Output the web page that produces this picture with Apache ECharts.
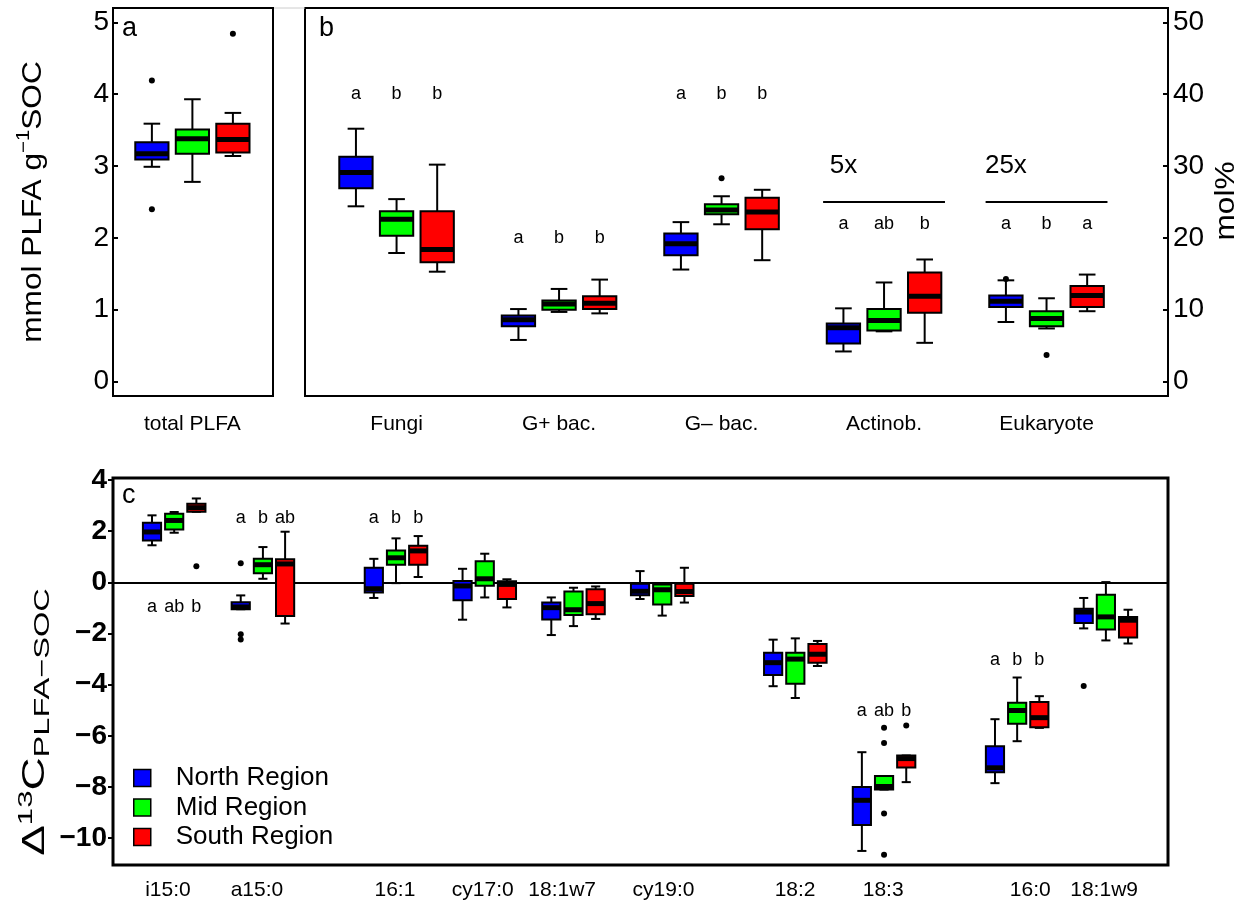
<!DOCTYPE html>
<html><head><meta charset="utf-8">
<script src="https://cdn.jsdelivr.net/npm/echarts@6/dist/echarts.min.js"></script>
<style>html,body{margin:0;padding:0;background:#fff}#c{width:1245px;height:905px}</style>
</head><body><div id="c"></div>
<script>
// ---------------- DATA ----------------
const regions = ['North Region', 'Mid Region', 'South Region'];

// Panel a: total PLFA (mmol PLFA g-1 SOC) — [lowWhisker, Q1, median, Q3, highWhisker]
const totalCategory = ['total PLFA'];
const totalNorth = [[2.99, 3.09, 3.17, 3.33, 3.59]];
const totalMid   = [[2.78, 3.17, 3.38, 3.51, 3.93]];
const totalSouth = [[3.14, 3.19, 3.37, 3.59, 3.74]];
const totalOutNorth = [[0, 4.19], [0, 2.40]];   // [group index, value]
const totalOutMid   = [];
const totalOutSouth = [[0, 4.84]];

// Panel b: mol%
const groupsB = ['Fungi', 'G+ bac.', 'G\u2013 bac.', 'Actinob.', 'Eukaryote'];
const molNorth = [[24.4, 26.9, 29.1, 31.3, 35.2], [5.8, 7.7, 8.6, 9.2, 10.1], [15.6, 17.6, 19.2, 20.6, 22.2], [4.2, 5.3, 7.5, 8.1, 10.2], [8.3, 10.4, 11.2, 12.0, 14.1]];
const molMid   = [[17.9, 20.3, 22.6, 23.7, 25.4], [9.7, 10.0, 10.8, 11.3, 12.9], [21.9, 23.3, 23.9, 24.7, 25.8], [7.0, 7.1, 8.5, 10.1, 13.8], [7.4, 7.7, 8.8, 9.8, 11.6]];
const molSouth = [[15.3, 16.6, 18.4, 23.7, 30.2], [9.5, 10.1, 10.9, 11.9, 14.2], [16.9, 21.2, 23.6, 25.6, 26.7], [5.4, 9.6, 11.9, 15.2, 17.0], [9.8, 10.4, 12.0, 13.3, 14.9]];
const molOutNorth = [[4, 14.3]];
const molOutMid   = [[2, 28.3], [4, 3.7]];
const molOutSouth = [];
const lettersB = [['a', 'b', 'b'], ['a', 'b', 'b'], ['a', 'b', 'b'], ['a', 'ab', 'b'], ['a', 'b', 'a']];
const letterYB = [40, 20, 40, 22, 22];
const scaleNoteGroups = [3, 4];
const scaleNoteText = ['5x', '25x'];
const scaleNoteLineY = [25, 25];
const scaleNoteTextY = [30, 30];

// Panel c: Δ13C PLFA-SOC
const fattyAcids = ['i15:0', 'a15:0', '16:1', 'cy17:0', '18:1w7', 'cy19:0', '18:2', '18:3', '16:0', '18:1w9'];
const d13North = [[1.45, 1.64, 1.97, 2.33, 2.62], [-1.05, -1.05, -0.96, -0.78, -0.51], [-0.61, -0.40, -0.25, 0.57, 0.92], [-1.46, -0.70, -0.14, 0.05, 0.53], [-2.06, -1.45, -0.99, -0.79, -0.59], [-0.65, -0.50, -0.35, -0.05, 0.44], [-4.06, -3.62, -3.14, -2.75, -2.24], [-10.50, -9.49, -8.52, -8.00, -6.64], [-7.85, -7.42, -7.25, -6.41, -5.35], [-1.80, -1.59, -1.16, -1.03, -0.61]];
const d13Mid   = [[1.94, 2.07, 2.42, 2.68, 2.75], [0.14, 0.36, 0.69, 0.92, 1.38], [-0.03, 0.69, 0.96, 1.25, 1.72], [-0.59, -0.13, 0.14, 0.83, 1.12], [-1.71, -1.28, -1.07, -0.36, -0.21], [-1.30, -0.87, -0.29, -0.08, -0.05], [-4.52, -3.96, -3.00, -2.75, -2.19], [-8.10, -8.10, -7.98, -7.57, -7.57], [-6.21, -5.53, -5.01, -4.71, -3.72], [-2.27, -1.84, -1.35, -0.48, 0.01]];
const d13South = [[2.76, 2.76, 2.92, 3.07, 3.28], [-1.61, -1.32, 0.72, 0.90, 1.98], [0.21, 0.69, 1.23, 1.43, 1.81], [-0.98, -0.65, -0.08, 0.04, 0.12], [-1.43, -1.25, -0.83, -0.27, -0.16], [-0.79, -0.53, -0.36, -0.05, 0.57], [-3.27, -3.14, -2.81, -2.41, -2.29], [-7.81, -7.24, -6.89, -6.77, -6.77], [-5.69, -5.66, -5.29, -4.68, -4.45], [-2.39, -2.16, -1.48, -1.35, -1.07]];
const d13OutNorth = [[1, 0.75], [1, -2.03], [1, -2.23], [9, -4.05]];
const d13OutMid   = [[7, -5.68], [7, -6.28], [7, -9.04], [7, -10.65]];
const d13OutSouth = [[0, 0.63], [7, -5.60]];
const lettersC = [['a', 'ab', 'b'], ['a', 'b', 'ab'], ['a', 'b', 'b'], null, null, null, null, ['a', 'ab', 'b'], ['a', 'b', 'b'], null];
const letterYC = [-0.98, 2.5, 2.5, null, null, null, null, -5.04, -3.05, null];

// slot positions of the first box of each group, and label positions
const groupStartA = [1];
const labelPosA = [2];
const groupStartB = [1, 5, 9, 13, 17];
const labelPosB = [2, 6, 10, 14, 18];
const groupStartC = [1, 5, 11, 15, 19, 23, 29, 33, 39, 43];
const labelPosC = [1.72, 5.73, 11.95, 15.91, 19.49, 24.06, 29.99, 33.96, 40.59, 43.92];

const ticksA = [0, 1, 2, 3, 4, 5];
const ticksB = [0, 10, 20, 30, 40, 50];
const ticksC = [-10, -8, -6, -4, -2, 0, 2, 4];

// ---------------- CHART ----------------
const FONT = '"Liberation Sans", Arial, Helvetica, sans-serif';
const colors = ['#0000ff', '#00ff00', '#ff0000'];
const BOXW = 0.82;

function boxData(stats, starts, r) { return stats.map((s, g) => [starts[g] + r].concat(s)); }
function outData(outs, starts, r) { return outs.map(o => [starts[o[0]] + r, o[1]]); }

function renderBox(params, api) {
  const x = api.value(0);
  const lo = api.coord([x, api.value(1)]);
  const q1 = api.coord([x, api.value(2)]);
  const md = api.coord([x, api.value(3)]);
  const q3 = api.coord([x, api.value(4)]);
  const hi = api.coord([x, api.value(5)]);
  const w = api.size([BOXW, 0])[0];
  const hw = w / 2, cw = w / 4, cx = lo[0];
  const ls = { stroke: '#000', lineWidth: 2 };
  return { type: 'group', children: [
    { type: 'line', shape: { x1: cx, y1: q3[1], x2: cx, y2: hi[1] }, style: ls },
    { type: 'line', shape: { x1: cx, y1: q1[1], x2: cx, y2: lo[1] }, style: ls },
    { type: 'line', shape: { x1: cx - cw, y1: hi[1], x2: cx + cw, y2: hi[1] }, style: ls },
    { type: 'line', shape: { x1: cx - cw, y1: lo[1], x2: cx + cw, y2: lo[1] }, style: ls },
    { type: 'rect', shape: { x: cx - hw, y: q3[1], width: w, height: q1[1] - q3[1] }, style: { fill: api.visual('color'), stroke: '#000', lineWidth: 2 } },
    { type: 'line', shape: { x1: cx - hw, y1: md[1], x2: cx + hw, y2: md[1] }, style: { stroke: '#000', lineWidth: 5 } }
  ] };
}

function textRenderer(texts, size) {
  return function (params, api) {
    const p = api.coord([api.value(0), api.value(1)]);
    return { type: 'text', x: p[0], y: p[1], style: { text: texts[params.dataIndex], textAlign: 'center', textVerticalAlign: 'middle', fontSize: size, fontFamily: FONT, fill: '#000' } };
  };
}

const series = [];
function addPanel(idx, statsList, outsList, starts) {
  statsList.forEach((stats, r) => {
    series.push({
      type: 'custom', name: regions[r], xAxisIndex: idx, yAxisIndex: idx,
      itemStyle: { color: colors[r] }, renderItem: renderBox,
      encode: { x: 0, y: [1, 2, 3, 4, 5] }, data: boxData(stats, starts, r), z: 3
    });
  });
  let pts = [];
  outsList.forEach((outs, r) => { pts = pts.concat(outData(outs, starts, r)); });
  series.push({ type: 'scatter', xAxisIndex: idx, yAxisIndex: idx, symbol: 'circle', symbolSize: 6, itemStyle: { color: '#000', opacity: 1 }, data: pts, z: 4, silent: true });
}
addPanel(0, [totalNorth, totalMid, totalSouth], [totalOutNorth, totalOutMid, totalOutSouth], groupStartA);
addPanel(1, [molNorth, molMid, molSouth], [molOutNorth, molOutMid, molOutSouth], groupStartB);
addPanel(2, [d13North, d13Mid, d13South], [d13OutNorth, d13OutMid, d13OutSouth], groupStartC);

// letters
function letterSeries(idx, letters, ys, starts, size) {
  const data = [], texts = [];
  letters.forEach((trip, g) => { if (!trip) return; trip.forEach((t, r) => { data.push([starts[g] + r, ys[g]]); texts.push(t); }); });
  series.push({ type: 'custom', xAxisIndex: idx, yAxisIndex: idx, renderItem: textRenderer(texts, size), data: data, silent: true, z: 5 });
}
letterSeries(1, lettersB, letterYB, groupStartB, 18);
letterSeries(2, lettersC, letterYC, groupStartC, 18);

// scale notes (5x, 25x)
series.push({
  type: 'custom', xAxisIndex: 1, yAxisIndex: 1, silent: true, z: 5,
  data: scaleNoteGroups.map((g, i) => [groupStartB[g], scaleNoteLineY[i], scaleNoteTextY[i]]),
  renderItem: function (params, api) {
    const x = api.value(0);
    const a = api.coord([x - 0.5, api.value(1)]);
    const b = api.coord([x + 2.5, api.value(1)]);
    const t = api.coord([x, api.value(2)]);
    return { type: 'group', children: [
      { type: 'line', shape: { x1: a[0], y1: a[1], x2: b[0], y2: b[1] }, style: { stroke: '#000', lineWidth: 2 } },
      { type: 'text', x: t[0], y: t[1], style: { text: scaleNoteText[params.dataIndex], textAlign: 'center', textVerticalAlign: 'middle', fontSize: 26, fontFamily: FONT, fill: '#000' } }
    ] };
  }
});

// zero line panel c
series.push({
  type: 'line', xAxisIndex: 2, yAxisIndex: 2, data: [], silent: true,
  markLine: { silent: true, symbol: 'none', label: { show: false }, lineStyle: { color: '#000', width: 2, type: 'solid' }, data: [{ yAxis: 0 }], z: 2 }
});

function xAxisDef(idx, min, max, pos, names, margin) {
  return {
    type: 'value', gridIndex: idx, min: min, max: max,
    axisLine: { show: false, onZero: false }, axisTick: { show: false }, splitLine: { show: false },
    axisLabel: {
      customValues: pos, margin: margin, fontSize: 21, color: '#000', fontFamily: FONT,
      formatter: function (v) { const i = pos.findIndex(p => Math.abs(p - v) < 1e-6); return i >= 0 ? names[i] : ''; }
    }
  };
}
function yAxisDef(idx, min, max, ticks, opts) {
  return {
    type: 'value', gridIndex: idx, min: min, max: max, position: opts.position || 'left',
    axisLine: { show: false, onZero: false }, splitLine: { show: false },
    axisTick: { show: true, customValues: ticks, inside: opts.inside, length: 5, lineStyle: { color: '#000', width: 2 } },
    axisLabel: { customValues: ticks, margin: opts.margin, fontSize: 28, color: '#000', fontFamily: FONT, fontWeight: opts.bold ? 'bold' : 'normal',
      formatter: function (v) { return v < 0 ? '\u2212' + Math.abs(v) : String(v); } }
  };
}

const option = {
  animation: false,
  backgroundColor: '#fff',
  textStyle: { fontFamily: FONT },
  grid: [
    { left: 113, top: 8, width: 160, height: 388, show: true, borderColor: '#000', borderWidth: 2, backgroundColor: 'transparent' },
    { left: 305, top: 8, width: 863, height: 388, show: true, borderColor: '#000', borderWidth: 2, backgroundColor: 'transparent' },
    { left: 113, top: 478, width: 1055, height: 387, show: true, borderColor: '#000', borderWidth: 3, backgroundColor: 'transparent' }
  ],
  xAxis: [
    xAxisDef(0, 0.04, 3.99, labelPosA, totalCategory, 18),
    xAxisDef(1, -0.254, 20.99, labelPosB, groupsB, 18),
    xAxisDef(2, -0.758, 46.80, labelPosC, fattyAcids, 15)
  ],
  yAxis: [
    yAxisDef(0, -0.2, 5.2, ticksA, { inside: true, margin: 4 }),
    yAxisDef(1, -2, 52, ticksB, { inside: true, margin: 5, position: 'right' }),
    yAxisDef(2, -11.05, 4.08, ticksC, { inside: false, margin: 6, bold: true })
  ],
  legend: {
    data: regions, orient: 'vertical', left: 133, top: 765, padding: 0, itemWidth: 17, itemHeight: 17, itemGap: 3.5,
    icon: 'rect', itemStyle: { borderColor: '#000', borderWidth: 1.5 },
    textStyle: { fontSize: 26, color: '#000', fontFamily: FONT, padding: [0, 0, 0, 20], lineHeight: 22 },
    selectedMode: false
  },
  graphic: [
    { type: 'line', shape: { x1: 274, y1: 8, x2: 305, y2: 8 }, style: { stroke: '#cccccc', lineWidth: 1 } },
    { type: 'text', x: 122, y: 29, style: { text: 'a', fontSize: 27, fontFamily: FONT, fill: '#000', textVerticalAlign: 'middle' } },
    { type: 'text', x: 319, y: 29, style: { text: 'b', fontSize: 27, fontFamily: FONT, fill: '#000', textVerticalAlign: 'middle' } },
    { type: 'text', x: 122, y: 496, style: { text: 'c', fontSize: 27, fontFamily: FONT, fill: '#000', textVerticalAlign: 'middle' } },
    { type: 'text', x: 33, y: 202, rotation: Math.PI / 2, scaleX: 1.13,
      style: { text: '{n|mmol PLFA g}{sup|\u22121}{n|SOC}', textAlign: 'center', textVerticalAlign: 'middle', fill: '#000',
        rich: { n: { fontSize: 28, fontFamily: FONT, lineHeight: 36, verticalAlign: 'middle' }, sup: { fontSize: 18, fontFamily: FONT, lineHeight: 22, verticalAlign: 'top' } } } },
    { type: 'text', x: 1226, y: 201, rotation: Math.PI / 2, scaleX: 1.13,
      style: { text: 'mol%', textAlign: 'center', textVerticalAlign: 'middle', fill: '#000', fontSize: 28, fontFamily: FONT } },
    { type: 'text', x: 35, y: 722, rotation: Math.PI / 2, scaleX: 1.48,
      style: { text: '{n|\u0394}{sup|13}{n|C}{sub|PLFA\u2212SOC}', textAlign: 'center', textVerticalAlign: 'middle', fill: '#000',
        rich: { n: { fontSize: 31, fontFamily: FONT, lineHeight: 38, verticalAlign: 'middle' }, sup: { fontSize: 21, fontFamily: FONT, lineHeight: 24, verticalAlign: 'top' }, sub: { fontSize: 22, fontFamily: FONT, lineHeight: 24, verticalAlign: 'bottom' } } } }
  ],
  series: series
};

const chart = echarts.init(document.getElementById('c'), null, { renderer: 'canvas' });
chart.setOption(option);
</script>
</body></html>
